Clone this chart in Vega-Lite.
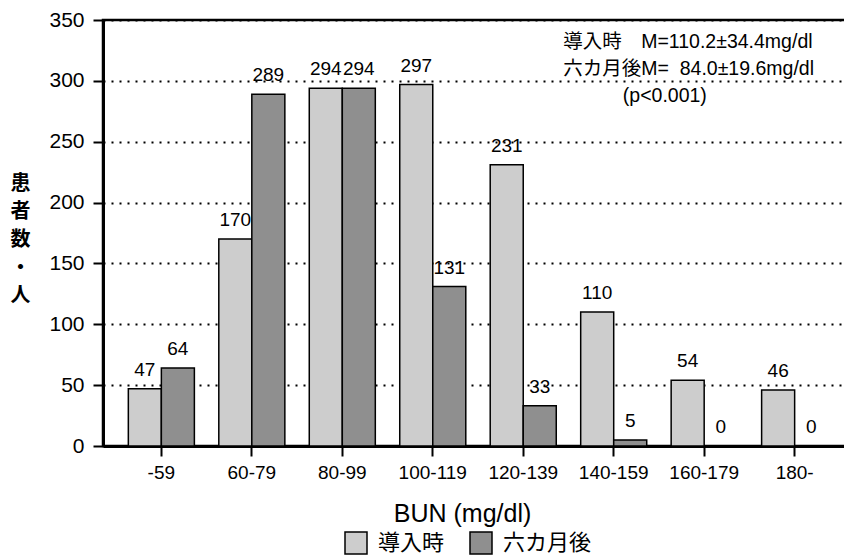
{
  "$schema": "https://vega.github.io/schema/vega-lite/v6.json",
  "width": 750,
  "height": 426,
  "autosize": {"type": "none"},
  "padding": {"left": 103, "top": 20, "right": 0, "bottom": 110},
  "background": "white",
  "config": {
    "view": {"stroke": "black", "strokeWidth": 2.5},
    "font": "Liberation Sans, Noto Sans CJK JP"
  },
  "data": {
    "values": [
      {"bun": "-59", "period": "導入時", "count": 47},
      {"bun": "-59", "period": "六カ月後", "count": 64},
      {"bun": "60-79", "period": "導入時", "count": 170},
      {"bun": "60-79", "period": "六カ月後", "count": 289},
      {"bun": "80-99", "period": "導入時", "count": 294},
      {"bun": "80-99", "period": "六カ月後", "count": 294},
      {"bun": "100-119", "period": "導入時", "count": 297},
      {"bun": "100-119", "period": "六カ月後", "count": 131},
      {"bun": "120-139", "period": "導入時", "count": 231},
      {"bun": "120-139", "period": "六カ月後", "count": 33},
      {"bun": "140-159", "period": "導入時", "count": 110},
      {"bun": "140-159", "period": "六カ月後", "count": 5},
      {"bun": "160-179", "period": "導入時", "count": 54},
      {"bun": "160-179", "period": "六カ月後", "count": 0},
      {"bun": "180-", "period": "導入時", "count": 46},
      {"bun": "180-", "period": "六カ月後", "count": 0}
    ]
  },
  "layer": [
    {
      "mark": {"type": "bar", "stroke": "black", "strokeWidth": 1.5},
      "encoding": {
        "x": {
          "field": "bun",
          "type": "nominal",
          "sort": ["-59", "60-79", "80-99", "100-119", "120-139", "140-159", "160-179", "180-"],
          "scale": {"paddingInner": 0.27, "paddingOuter": 0.28},
          "axis": {
            "title": "BUN (mg/dl)",
            "titleFontSize": 25,
            "titleFontWeight": "normal",
            "titleColor": "black",
            "titleX": 359,
            "titleY": 75,
            "titleBaseline": "alphabetic",
            "labelAngle": 0,
            "labelFont": "Liberation Sans",
            "labelFontSize": 19,
            "labelColor": "black",
            "labelPadding": 7,
            "tickSize": 10,
            "tickWidth": 2,
            "tickColor": "black",
            "domainColor": "black",
            "domainWidth": 3
          }
        },
        "xOffset": {
          "field": "period",
          "type": "nominal",
          "sort": ["導入時", "六カ月後"],
          "scale": {"paddingInner": 0, "paddingOuter": 0}
        },
        "y": {
          "field": "count",
          "type": "quantitative",
          "scale": {"domain": [0, 350], "nice": false},
          "axis": {
            "values": [0, 50, 100, 150, 200, 250, 300, 350],
            "grid": true,
            "gridColor": "black",
            "gridDash": [2, 6],
            "gridWidth": 2,
            "gridOpacity": 1,
            "domainColor": "black",
            "domainWidth": 3,
            "tickColor": "black",
            "tickWidth": 2,
            "tickSize": 10,
            "labelPadding": 9,
            "labelFontSize": 21,
            "labelColor": "black",
            "title": ["患", "者", "数", "・", "人"],
            "titleAngle": 0,
            "titleFont": "Noto Sans CJK JP",
            "titleFontSize": 20,
            "titleFontWeight": "bold",
            "titleColor": "black",
            "titleLineHeight": 28,
            "titleAlign": "center",
            "titleBaseline": "middle",
            "titleX": -83,
            "titleY": 163
          }
        },
        "fill": {
          "field": "period",
          "type": "nominal",
          "sort": ["導入時", "六カ月後"],
          "scale": {"domain": ["導入時", "六カ月後"], "range": ["#cdcdcd", "#8f8f8f"]},
          "legend": {
            "title": null,
            "orient": "none",
            "direction": "horizontal",
            "legendX": 241,
            "legendY": 511,
            "symbolType": "square",
            "symbolSize": 484,
            "symbolStrokeColor": "black",
            "symbolStrokeWidth": 1.5,
            "symbolOpacity": 1,
            "labelFont": "Noto Sans CJK JP",
            "labelFontSize": 22,
            "labelColor": "black",
            "labelOffset": 10,
            "columnPadding": 22
          }
        }
      }
    },
    {
      "mark": {"type": "text", "baseline": "alphabetic", "dy": -13, "fontSize": 19, "color": "black"},
      "encoding": {
        "x": {"field": "bun", "type": "nominal", "sort": ["-59", "60-79", "80-99", "100-119", "120-139", "140-159", "160-179", "180-"]},
        "xOffset": {"field": "period", "type": "nominal", "sort": ["導入時", "六カ月後"]},
        "y": {"field": "count", "type": "quantitative"},
        "text": {"field": "count", "type": "quantitative"}
      }
    },
    {
      "data": {"values": [{"note": "M"}]},
      "mark": {
        "type": "text",
        "align": "left",
        "baseline": "alphabetic",
        "dx": 40,
        "dy": 28,
        "fontSize": 19.5,
        "lineHeight": 27,
        "color": "black",
        "font": "Liberation Sans, Noto Sans CJK JP"
      },
      "encoding": {
        "x": {"datum": "120-139"},
        "y": {"datum": 350},
        "text": {"value": ["導入時\u3000M=110.2±34.4mg/dl", "六カ月後M=\u00a0\u00a084.0±19.6mg/dl", "\u200b\u00a0\u00a0\u00a0\u00a0\u00a0\u00a0\u00a0\u00a0\u00a0\u00a0\u00a0(p<0.001)"]}
      }
    }
  ]
}
